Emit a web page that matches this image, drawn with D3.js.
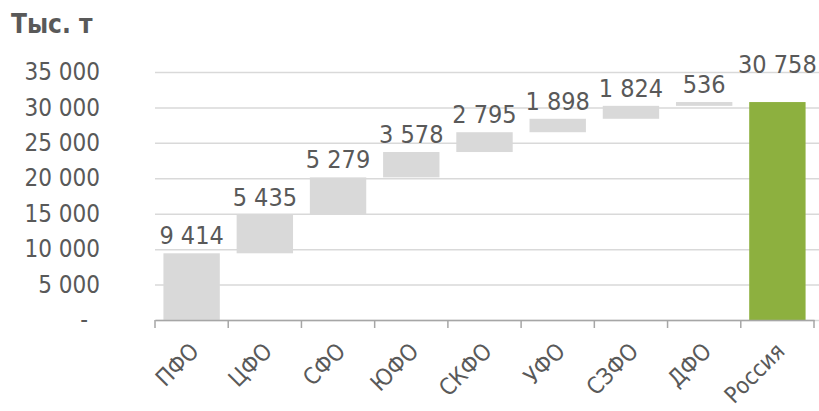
<!DOCTYPE html>
<html>
<head>
<meta charset="utf-8">
<script src="https://cdn.jsdelivr.net/npm/d3@7"></script>
<style>
  body { margin: 0; background: #fff; }
  text { font-family: "DejaVu Sans Condensed", "DejaVu Sans", sans-serif; font-stretch: condensed; fill: #595959; }
</style>
</head>
<body>
<div id="chart"></div>
<script>
const width = 819
const height = 411
const margin = { top: 72, right: 5, bottom: 91, left: 155 }

const categories = ["ПФО", "ЦФО", "СФО", "ЮФО", "СКФО", "УФО", "СЗФО", "ДФО", "Россия"]
const values = [9414, 5435, 5279, 3578, 2795, 1898, 1824, 536, 30758]
const isTotal = [false, false, false, false, false, false, false, false, true]
const yTicks = [0, 5000, 10000, 15000, 20000, 25000, 30000, 35000]
const unitLabel = "Тыс. т"

// running base for the floating bars
let running = 0
const steps = values.map((v, i) => {
  if (isTotal[i]) return { name: categories[i], value: v, from: 0, to: v, total: true }
  const s = { name: categories[i], value: v, from: running, to: running + v, total: false }
  running += v
  return s
})

const fmt = (v) => (v === 0 ? "-" : d3.format(",")(v).replace(/,/g, " "))

var xScale = d3.scaleBand(categories, [margin.left, width - margin.right]).paddingInner(0.23).paddingOuter(0.115)
var yScale = d3.scaleLinear([0, 35000], [height - margin.bottom, margin.top])

var svg = d3.select("#chart").append("svg").attr("width", width).attr("height", height)

svg.append("text")
  .attr("x", 11)
  .attr("y", 33)
  .style("font-size", "26px")
  .style("font-weight", "bold")
  .text(unitLabel)

// y axis + grid
var yAxis = d3.axisLeft(yScale).tickValues(yTicks).tickFormat(fmt)
  .tickSize(-(width - margin.left)).tickPadding(55)
var gy = svg.append("g").attr("transform", `translate(${margin.left},0)`).call(yAxis)
gy.select(".domain").remove()
gy.selectAll(".tick line").style("stroke", "#d9d9d9").style("stroke-width", "1.5px")
gy.selectAll(".tick text").style("font-size", "24px").attr("fill", "#595959")
  .attr("dx", (d) => (d === 0 ? -12 : 0))

// bars
svg.append("g")
  .selectAll("rect")
  .data(steps)
  .enter()
  .append("rect")
  .attr("x", (d) => xScale(d.name))
  .attr("width", xScale.bandwidth())
  .attr("y", (d) => yScale(d.to))
  .attr("height", (d) => yScale(d.from) - yScale(d.to))
  .style("fill", (d) => (d.total ? "#8db03f" : "#d9d9d9"))

// value labels
svg.append("g")
  .selectAll("text")
  .data(steps)
  .enter()
  .append("text")
  .attr("x", (d) => xScale(d.name) + xScale.bandwidth() / 2)
  .attr("y", (d) => yScale(d.to) - (d.total ? 29 : 9))
  .attr("text-anchor", "middle")
  .style("font-size", "25px")
  .text((d) => fmt(d.value))

// x axis
var gx = svg.append("g").attr("transform", `translate(0,${height - margin.bottom})`)
  .call(d3.axisBottom(xScale).tickSize(0).tickSizeOuter(0))
gx.select(".domain").style("stroke", "#a6a6a6").style("stroke-width", "1.5px")
gx.selectAll(".tick text")
  .style("font-size", "23px")
  .attr("text-anchor", "end")
  .attr("dy", "0.35em")
  .attr("transform", "translate(3,27) rotate(-45)")
  .attr("y", 0)

// boundary ticks between categories
const step = xScale.step()
const bounds = d3.range(categories.length + 1).map((i) => margin.left + i * step)
gx.selectAll(".bound")
  .data(bounds)
  .enter()
  .append("line")
  .attr("x1", (d) => d)
  .attr("x2", (d) => d)
  .attr("y1", 0)
  .attr("y2", 8)
  .style("stroke", "#a6a6a6")
  .style("stroke-width", "1.5px")
</script>
</body>
</html>
